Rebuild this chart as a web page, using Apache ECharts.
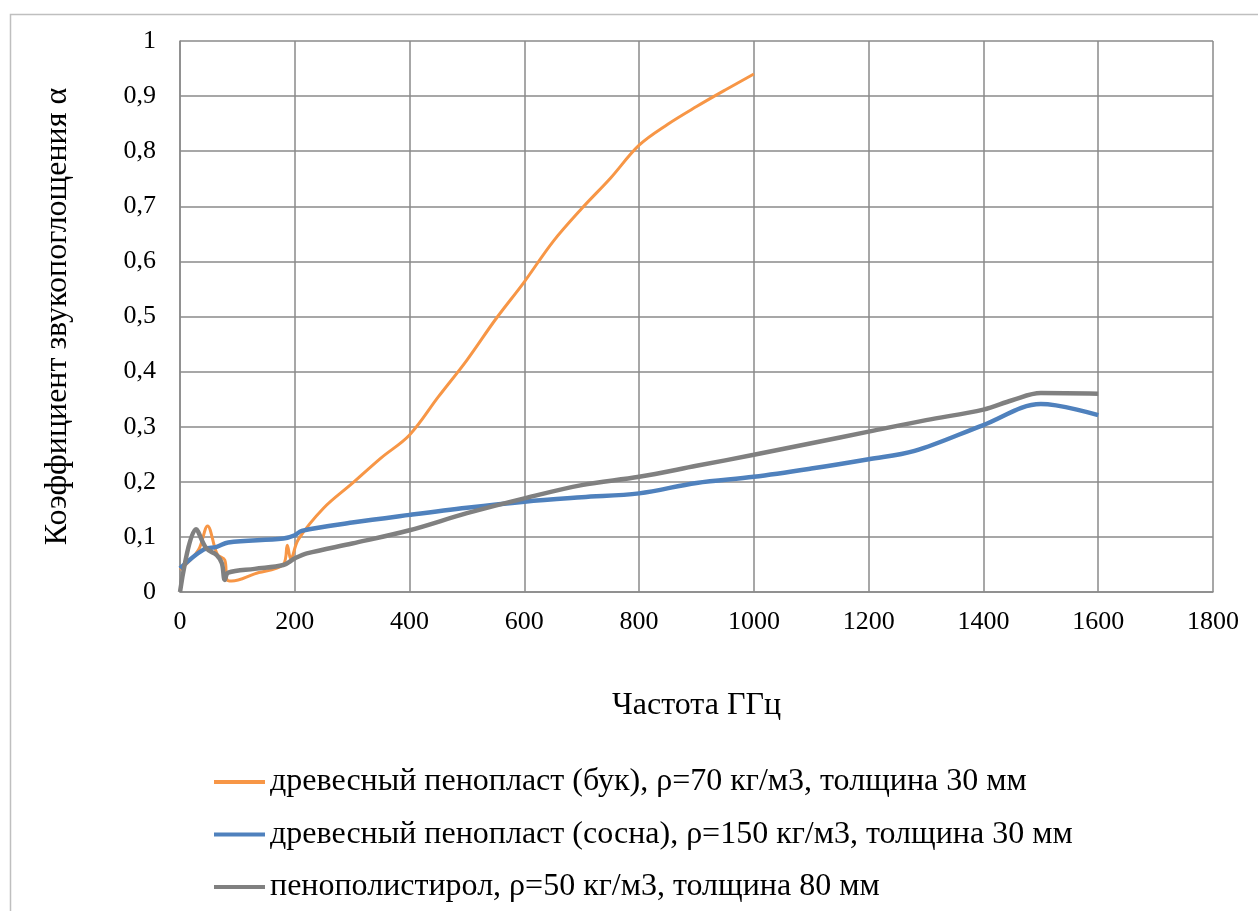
<!DOCTYPE html>
<html>
<head>
<meta charset="utf-8">
<script src="https://cdn.jsdelivr.net/npm/echarts@6/dist/echarts.min.js"></script>
<style>
html,body{margin:0;padding:0;background:#fff;}
#chart{width:1258px;height:911px;}
</style>
</head>
<body>
<div id="chart"></div>
<script>
// --- data ---
const seriesNames = [
  'древесный пенопласт (бук), ρ=70 кг/м3, толщина 30 мм',
  'древесный пенопласт (сосна), ρ=150 кг/м3, толщина 30 мм',
  'пенополистирол, ρ=50 кг/м3, толщина 80 мм'
];
const freqBuk  = [0, 32, 48, 65, 78, 82, 90, 130, 180, 187, 193, 206, 250, 300, 350, 400, 450, 500, 550, 600, 650, 700, 750, 800, 850, 900, 950, 1000];
const alphaBuk = [0.04, 0.076, 0.12, 0.068, 0.058, 0.022, 0.02, 0.033, 0.05, 0.085, 0.06, 0.095, 0.152, 0.197, 0.243, 0.285, 0.354, 0.421, 0.495, 0.563, 0.636, 0.696, 0.751, 0.811, 0.849, 0.881, 0.911, 0.94];

const freqSosna  = [0, 41, 64, 84, 180, 200, 212, 300, 400, 500, 600, 700, 800, 900, 1000, 1100, 1200, 1280, 1400, 1500, 1600];
const alphaSosna = [0.043, 0.077, 0.082, 0.09, 0.097, 0.103, 0.111, 0.126, 0.14, 0.153, 0.164, 0.172, 0.179, 0.198, 0.209, 0.224, 0.241, 0.256, 0.303, 0.341, 0.321];

const freqPoly  = [0, 28, 46, 64, 73, 78, 84, 130, 180, 200, 221, 300, 400, 500, 600, 700, 800, 900, 1000, 1100, 1200, 1300, 1400, 1450, 1500, 1600];
const alphaPoly = [0, 0.114, 0.079, 0.067, 0.052, 0.022, 0.035, 0.042, 0.049, 0.061, 0.07, 0.088, 0.112, 0.143, 0.17, 0.194, 0.209, 0.229, 0.249, 0.27, 0.291, 0.312, 0.331, 0.348, 0.361, 0.36];

const xTitle = 'Частота ГГц';
const yTitle = 'Коэффициент звукопоглощения α';

const colors = ['#F79646', '#4F81BD', '#808080'];
const widths = [3, 4.5, 4.5];

function pairs(xs, ys){ return xs.map((x,i)=>[x, ys[i]]); }
const allData = [pairs(freqBuk, alphaBuk), pairs(freqSosna, alphaSosna), pairs(freqPoly, alphaPoly)];

const FONT = '"Liberation Serif", "Times New Roman", serif';
const chart = echarts.init(document.getElementById('chart'), null, {renderer:'canvas'});
chart.setOption({
  backgroundColor: '#fff',
  animation: false,
  graphic: [{
    type: 'rect', left: 8, top: 12, silent: true,
    shape: {x: 0, y: 0, width: 1400, height: 1100},
    style: {fill: 'none', stroke: '#bfbfbf', lineWidth: 1.5}
  }],
  grid: {left: 180, top: 41, right: 45, bottom: 319, containLabel: false},
  xAxis: {
    type: 'value', min: 0, max: 1800, interval: 200,
    name: xTitle, nameLocation: 'middle', nameGap: 98,
    nameTextStyle: {fontFamily: FONT, fontSize: 32, color: '#000'},
    axisLine: {show: true, lineStyle: {color: '#8a8a8a', width: 1.5}},
    axisTick: {show: false},
    axisLabel: {fontFamily: FONT, fontSize: 26, color: '#000', margin: 17,
      formatter: v => String(v)},
    splitLine: {show: true, lineStyle: {color: '#8a8a8a', width: 1.5}}
  },
  yAxis: {
    type: 'value', min: 0, max: 1, interval: 0.1,
    name: yTitle, nameLocation: 'middle', nameRotate: 90, nameGap: 106,
    nameTextStyle: {fontFamily: FONT, fontSize: 32, color: '#000'},
    axisLine: {show: true, lineStyle: {color: '#8a8a8a', width: 1.5}},
    axisTick: {show: false},
    axisLabel: {fontFamily: FONT, fontSize: 26, color: '#000', margin: 24,
      formatter: v => String(+v.toFixed(1)).replace('.', ',')},
    splitLine: {show: true, lineStyle: {color: '#8a8a8a', width: 1.5}}
  },
  legend: {
    orient: 'vertical', left: 209, top: 761, itemWidth: 51, itemHeight: 4, itemGap: 20.5,
    textStyle: {fontFamily: FONT, fontSize: 32, color: '#000', lineHeight: 32},
    data: seriesNames.map((n,i)=>({name: n, icon: 'rect', itemStyle: {color: colors[i]}}))
  },
  series: seriesNames.map((n,i)=>({
    name: n, type: 'line', data: allData[i], smooth: 0.35,
    symbol: 'none', color: colors[i],
    lineStyle: {color: colors[i], width: widths[i]}
  }))
});
</script>
</body>
</html>
